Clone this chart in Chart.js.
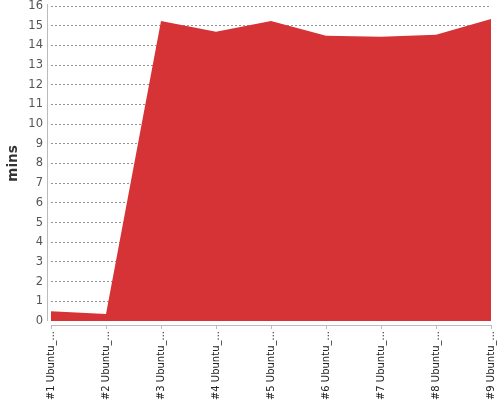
<!DOCTYPE html>
<html lang="en">
<head>
    <meta charset="UTF-8">
    <title>mins</title>
    <script src="https://cdn.jsdelivr.net/npm/chart.js"></script>
    <style>
        html, body { margin: 0; padding: 0; background: #fff; }
        .grafica { width: 500px; height: 400px; }
    </style>
</head>
<body>
    <div class="grafica">
        <canvas id="myChart"></canvas>
    </div>

    <script>
        // chart data
        const categorias = ["#1 Ubuntu_...", "#2 Ubuntu_...", "#3 Ubuntu_...", "#4 Ubuntu_...", "#5 Ubuntu_...",
                            "#6 Ubuntu_...", "#7 Ubuntu_...", "#8 Ubuntu_...", "#9 Ubuntu_..."];
        const minutos = [0.49, 0.36, 15.24, 14.69, 15.24, 14.49, 14.44, 14.54, 15.34];
        const yMin = 0;
        const yMax = 16;
        const yPaso = 1;

        // axis lines sit a few px away from the plot, like the original
        const ejesSeparados = {
            id: "ejesSeparados",
            afterDraw(chart) {
                const { ctx, chartArea, scales } = chart;
                const gap = 4;
                ctx.save();
                ctx.strokeStyle = "#bbbbbb";
                ctx.lineWidth = 1;
                ctx.beginPath();
                // y axis line
                ctx.moveTo(chartArea.left - gap + 0.5, chartArea.top - 2);
                ctx.lineTo(chartArea.left - gap + 0.5, chartArea.bottom);
                // x axis line
                ctx.moveTo(chartArea.left, chartArea.bottom + gap + 0.5);
                ctx.lineTo(chartArea.right + 1, chartArea.bottom + gap + 0.5);
                // x tick marks
                categorias.forEach((c, i) => {
                    const x = Math.round(scales.x.getPixelForValue(i)) + 0.5;
                    ctx.moveTo(x, chartArea.bottom + gap);
                    ctx.lineTo(x, chartArea.bottom + gap + 4);
                });
                ctx.stroke();
                ctx.restore();
            }
        };

        // drop the extra room chart.js keeps for the end labels
        function sinPadding(scale) {
            scale.paddingTop = 0;
            scale.paddingBottom = 0;
            scale.paddingLeft = 0;
            scale.paddingRight = 0;
        }

        const ctx = document.getElementById("myChart").getContext("2d");

        new Chart(ctx, {
            type: "line",
            data: {
                labels: categorias,
                datasets: [{
                    label: "mins",
                    data: minutos,
                    backgroundColor: "rgb(214, 51, 54)",
                    borderColor: "rgb(214, 51, 54)",
                    borderWidth: 0,
                    pointRadius: 0,
                    tension: 0,
                    fill: "origin"
                }]
            },
            options: {
                responsive: true,
                maintainAspectRatio: false,
                animation: false,
                layout: { padding: { top: 6, right: 9, left: 0, bottom: 0 } },
                plugins: {
                    legend: { display: false },
                    tooltip: { enabled: false }
                },
                scales: {
                    x: {
                        z: 1,
                        afterFit: (scale) => { scale.height = 79; sinPadding(scale); },
                        border: { display: false },
                        grid: { display: false, drawTicks: false },
                        ticks: {
                            autoSkip: false,
                            minRotation: 90,
                            maxRotation: 90,
                            padding: 10,
                            color: "#222",
                            font: { family: "DejaVu Sans", size: 10 }
                        }
                    },
                    y: {
                        z: 1,
                        min: yMin,
                        max: yMax,
                        afterFit: (scale) => { scale.width = 51; sinPadding(scale); },
                        border: { display: false, dash: [2, 2] },
                        grid: {
                            color: (c) => c.tick && c.tick.value === 0 ? "rgba(0,0,0,0)" : "rgba(0, 0, 0, 0.42)",
                            lineWidth: 1,
                            drawTicks: false
                        },
                        ticks: {
                            stepSize: yPaso,
                            padding: 8,
                            color: "#555",
                            font: { family: "DejaVu Sans", size: 11.5 }
                        },
                        title: {
                            display: true,
                            text: "mins",
                            color: "#333",
                            padding: { top: 5, bottom: 0 },
                            font: { family: "DejaVu Sans", size: 13.5, weight: "bold" }
                        }
                    }
                }
            },
            plugins: [ejesSeparados]
        });
    </script>
</body>
</html>
